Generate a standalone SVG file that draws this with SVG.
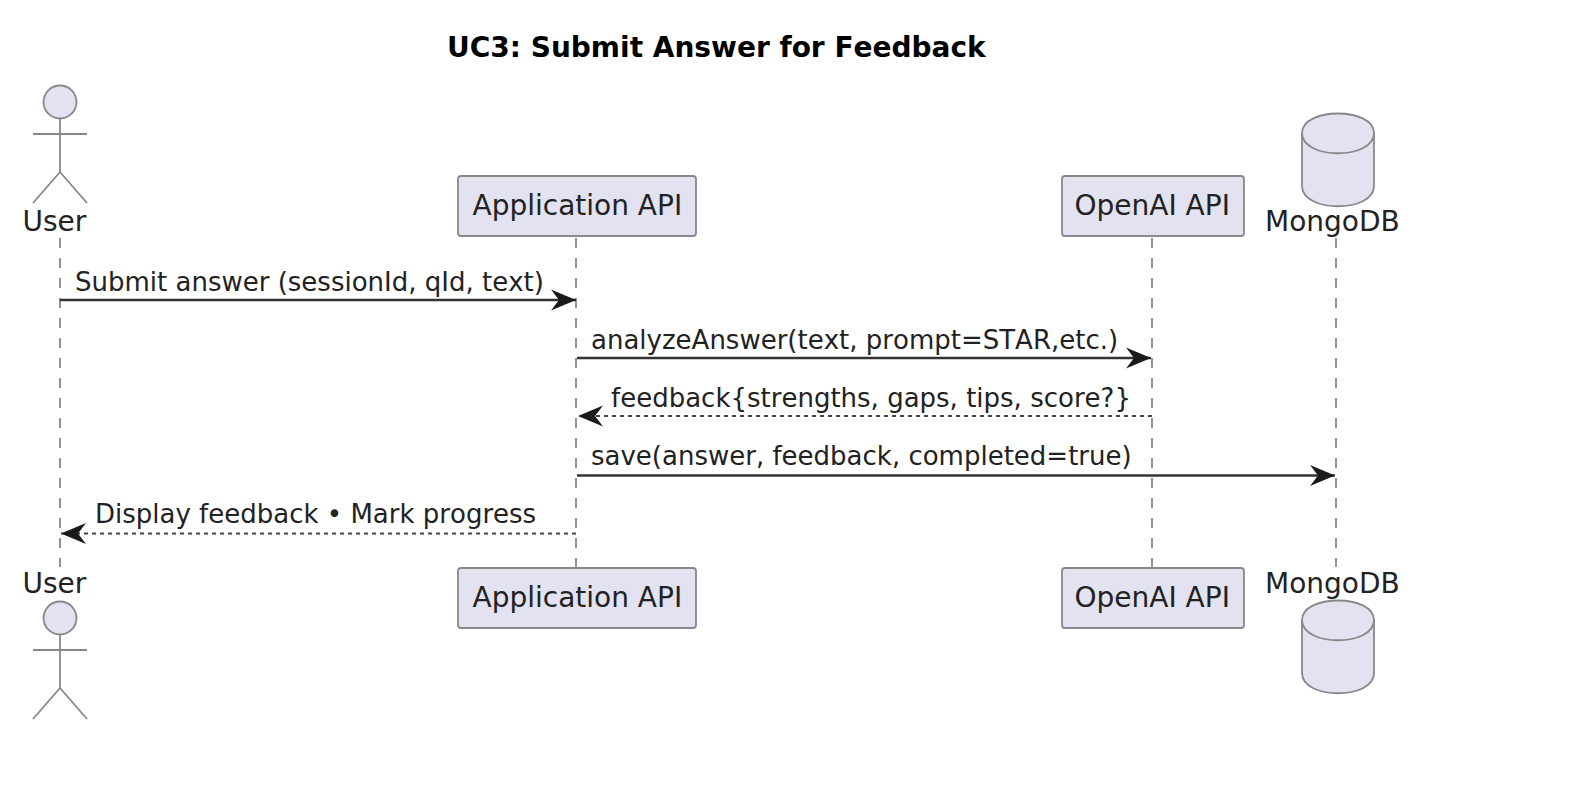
<svg xmlns="http://www.w3.org/2000/svg" width="1592" height="788" viewBox="0 0 1592 788">
<style>
text{font-family:"DejaVu Sans",sans-serif;font-size:28px;fill:#222;font-kerning:none}
.t{font-weight:bold;font-size:28px;fill:#000}
.m{font-size:26px}
.s{fill:#e2e2f0;stroke:#888;stroke-width:1.8}
.a{fill:none;stroke:#888;stroke-width:1.8}
.l{stroke:#888;stroke-width:1.8;stroke-dasharray:10 10;fill:none}
.c{stroke:#333;stroke-width:2.4;fill:none}
.d{stroke:#444;stroke-width:2;fill:none;stroke-dasharray:4 4}
</style>
<defs>
<marker id="h" markerUnits="userSpaceOnUse" markerWidth="26" markerHeight="22" refX="25" refY="11" viewBox="0 0 26 22" orient="auto"><path d="M0 0.500L25 11L0 21.500L8 11Z" fill="#1a1a1a"/></marker>
</defs>
<text class="t" x="447" y="57">UC3: Submit Answer for Feedback</text>
<g id="lifelines">
<path class="l" d="M60 238V567"/><path class="l" d="M576 238V567"/><path class="l" d="M1152 238V567"/><path class="l" d="M1336 238V567"/>
</g>
<g id="connectors">
<path class="c" d="M60 300H576" marker-end="url(#h)"/>
<path class="c" d="M577 358H1151" marker-end="url(#h)"/>
<path class="d" d="M1152 416H578" marker-end="url(#h)"/>
<path class="c" d="M577 475.500H1335" marker-end="url(#h)"/>
<path class="d" d="M576 533.500H61" marker-end="url(#h)"/>
<text class="m" x="75" y="290.500">Submit answer (sessionId, qId, text)</text>
<text class="m" x="591" y="348.500">analyzeAnswer(text, prompt=STAR,etc.)</text>
<text class="m" x="611" y="406.500">feedback{strengths, gaps, tips, score?}</text>
<text class="m" x="591" y="465">save(answer, feedback, completed=true)</text>
<text class="m" x="95" y="523">Display feedback • Mark progress</text>
</g>
<g id="user-top"><circle class="s" cx="60" cy="102" r="16.5"/><path class="a" d="M60 119V172M33 134H87M60 172L33 203M60 172L87 203"/><text x="22.500" y="231">User</text></g>
<g id="api-top"><rect class="s" x="458" y="176" width="238" height="60" rx="3"/><text x="472.500" y="215">Application API</text></g>
<g id="openai-top"><rect class="s" x="1062" y="176" width="182" height="60" rx="3"/><text x="1074.500" y="215">OpenAI API</text></g>
<g id="mongo-top"><path class="s" d="M1302 133C1302 107 1374 107 1374 133V186C1374 213 1302 213 1302 186Z"/><path class="a" d="M1302 133C1302 160 1374 160 1374 133"/><text x="1265" y="230.500">MongoDB</text></g>
<g id="user-bottom"><text x="22.500" y="592.500">User</text><circle class="s" cx="60" cy="618" r="16.5"/><path class="a" d="M60 635V688M33 650H87M60 688L33 719M60 688L87 719"/></g>
<g id="api-bottom"><rect class="s" x="458" y="568" width="238" height="60" rx="3"/><text x="472.500" y="607">Application API</text></g>
<g id="openai-bottom"><rect class="s" x="1062" y="568" width="182" height="60" rx="3"/><text x="1074.500" y="607">OpenAI API</text></g>
<g id="mongo-bottom"><text x="1265" y="592.500">MongoDB</text><path class="s" d="M1302 620C1302 594 1374 594 1374 620V673C1374 700 1302 700 1302 673Z"/><path class="a" d="M1302 620C1302 647 1374 647 1374 620"/></g>
</svg>
